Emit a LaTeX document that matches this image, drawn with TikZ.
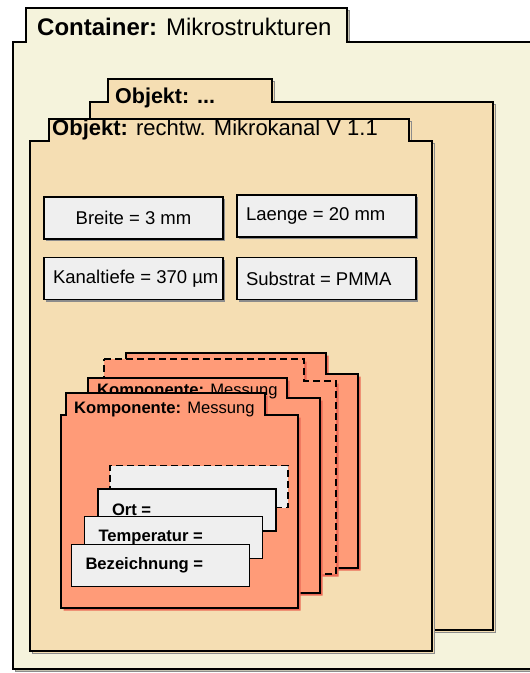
\documentclass[tikz,border=0pt]{standalone}
\usepackage{fontspec}
\setmainfont{Liberation Sans}
\usetikzlibrary{shadows}
\definecolor{contfill}{RGB}{245,243,220}
\definecolor{objfill}{RGB}{245,222,179}
\definecolor{compfill}{RGB}{255,155,120}
\definecolor{compshadow}{RGB}{235,105,85}
\definecolor{boxfill}{RGB}{239,239,239}
% #2 body left, #3 body top, #4 body right, #5 body bottom, #6 tab left, #7 tab top, #8 tab right
\newcommand\tabframe[8][]{%
  \path[#1] (#6,#7) -- (#8,#7) -- (#8,#3) -- (#4,#3) -- (#4,#5) -- (#2,#5) -- (#2,#3) -- (#6,#3) -- cycle;}
\newcommand\lbox[2]{\makebox[#1][l]{#2}}
\tikzset{
  frameline/.style={draw=black, line width=1.6pt},
  dashframe/.style={draw=black, line width=1.6pt, dash pattern=on 7pt off 4pt},
  frameshadow/.style={shift={(2.5,2.5)}, fill=#1, draw=black!45, line width=0.8pt},
  propbox/.style={draw=black, fill=boxfill, line width=1.6pt, minimum width=179pt, minimum height=42pt,
    inner ysep=0pt, inner xsep=9pt, font=\fontsize{18.5}{21}\selectfont,
    drop shadow={shadow xshift=2pt, shadow yshift=-2pt, fill=black!45, opacity=1}},
  innerbox/.style={draw=black, fill=boxfill, line width=1.6pt, minimum width=178pt, minimum height=42pt,
    inner ysep=0pt, inner xsep=14pt,
    font=\fontsize{16.6}{19}\selectfont\bfseries},
  titletext/.style={anchor=base west, inner sep=0pt},
}
\begin{document}
\begin{tikzpicture}[x=1pt,y=-1pt]
\useasboundingbox (0,0) rectangle (530,673);
\clip (0,0) rectangle (530,673);
% Container
\tabframe[frameshadow=contfill!80!black]{13}{42}{560}{669}{26}{8}{347}
\tabframe[fill=contfill, frameline]{13}{42}{560}{669}{26}{8}{347}
\node[titletext, font=\fontsize{24}{28}\selectfont] (conttitle) at (37,35) {\textbf{Container:} Mikrostrukturen};
% Objekt (back)
\tabframe[frameshadow=objfill]{90}{102}{493}{630}{108}{79}{272}
\tabframe[fill=objfill, frameline]{90}{102}{493}{630}{108}{79}{272}
\node[titletext, font=\fontsize{21.5}{25}\selectfont] (objbacktitle) at (115,103) {\textbf{Objekt: ...}};
% Objekt (front)
\tabframe[frameshadow=objfill]{30}{141}{432}{651}{49}{119}{409}
\tabframe[fill=objfill, frameline]{30}{141}{432}{651}{49}{119}{409}
\node[titletext, font=\fontsize{22}{25}\selectfont] (objfronttitle) at (52,135) {\textbf{Objekt:} rechtw. Mikrokanal V 1.1};
% properties
\node[propbox] (breite) at (133.5,218) {Breite = 3 mm};
\node[propbox] (laenge) at (326.5,216) {\lbox{161pt}{Laenge = 20 mm}};
\node[propbox] (tiefe) at (133.5,278.5) {\lbox{161pt}{Kanaltiefe = 370 µm}};
\node[propbox] (substrat) at (326.5,278.5) {\lbox{161pt}{Substrat = PMMA}};
% Komponenten
\tabframe[frameshadow=compshadow, draw=none]{121}{374}{358}{568}{126}{353}{326}
\tabframe[fill=compfill, frameline]{121}{374}{358}{568}{126}{353}{326}
\tabframe[frameshadow=compshadow, draw=none]{99}{381}{336}{574}{104}{359}{304}
\tabframe[fill=compfill, dashframe]{99}{381}{336}{574}{104}{359}{304}
\tabframe[frameshadow=compshadow, draw=none]{83}{398}{320}{593}{88}{378}{287}
\tabframe[fill=compfill, frameline]{83}{398}{320}{593}{88}{378}{287}
\node[titletext, font=\fontsize{16.6}{19}\selectfont] (comp3title) at (97,395) {\textbf{Komponente:} Messung};
\tabframe[frameshadow=compshadow, draw=none]{61}{415}{298}{608}{66}{393}{265}
\tabframe[fill=compfill, frameline]{61}{415}{298}{608}{66}{393}{265}
\node[titletext, font=\fontsize{16.6}{19}\selectfont] (comp4title) at (74,413) {\textbf{Komponente:} Messung};
% inner attribute boxes
\node[innerbox, dash pattern=on 7pt off 4pt] (attrback) at (199,486.5) {};
\node[innerbox] (ort) at (187,510) {\lbox{150pt}{Ort =}};
\node[innerbox] (temp) at (173.5,537.5) {\lbox{150pt}{Temperatur =}};
\node[innerbox] (bez) at (160.5,565.5) {\lbox{150pt}{Bezeichnung =}};
\end{tikzpicture}
\end{document}
